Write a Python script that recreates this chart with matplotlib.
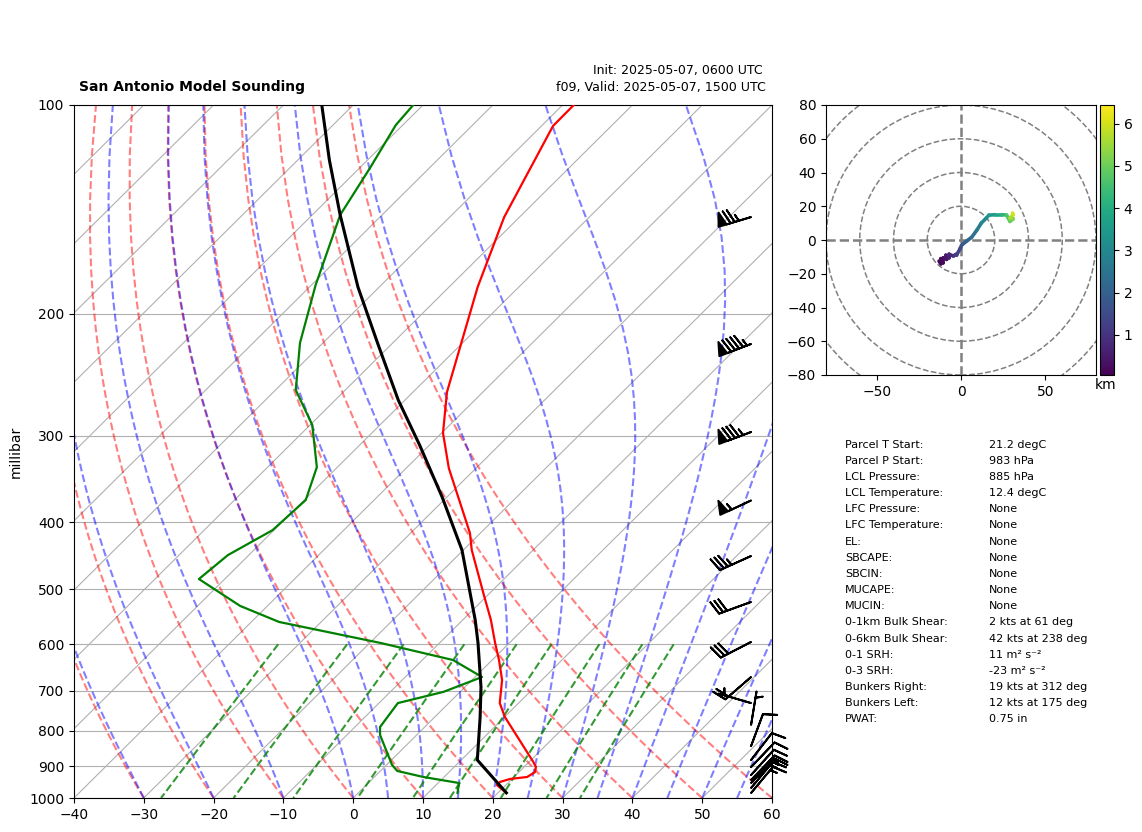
import numpy as np
import matplotlib
matplotlib.use('Agg')
import matplotlib.pyplot as plt
from matplotlib.collections import LineCollection
from matplotlib.patches import Circle
from matplotlib.transforms import Affine2D, blended_transform_factory

# ---------- sounding ----------
temp_p = [100, 107.2, 145.1, 183.1, 259.5, 297.4, 334.2, 414.7, 438.7, 511, 553.6, 597.3, 632.3,
          675.6, 729.5, 764.1, 887.1, 902, 917, 932.5, 938.8, 948.2, 957.7, 983]
temp_c = [-68.4, -68.35, -62.2, -55.9, -45.15, -39.8, -33.9, -21.5, -18.8, -10.4, -5.95, -2.05, 0.98,
          4.3, 7.3, 10.05, 20.6, 21.7, 22.3, 21.9, 19.7, 18.7, 18.7, 21.2]
dewp_p = [100, 106.9, 123.3, 144.1, 181.9, 220.4, 257.8, 289.5, 333.1, 371.5, 410.6, 446.1, 483.1,
          528.3, 557.2, 597.3, 632.3, 669, 703, 729.5, 789.8, 811, 896, 914, 932.5, 951.4, 983]
dewp_c = [-91.4, -91, -88.5, -86, -79.4, -73.3, -67.1, -59.7, -52.95, -49.8, -50.2, -53, -53.7,
          -43.9, -36, -18.5, -5.6, 1, -2.4, -7.3, -6.4, -5.25, 0.8, 2.4, 7, 13, 14.2]
parcel_p = [100, 120, 144.1, 183.1, 221.9, 266.4, 309.6, 367.8, 438.7, 553.6, 597.3, 691.7, 764.1, 881.4, 983]
parcel_c = [-104.5, -95.5, -86, -73.05, -61.8, -51, -41.4, -30.7, -20.2, -8.2, -4.5, 2.3, 6.5, 12.3, 21.2]

barb_p = [145.1, 221.2, 296.4, 372.1, 447.5, 521.3, 595.4, 669, 729.5, 784.6, 841.4, 881.4, 902.2,
          926.4, 942, 951.4, 967.3, 983.5]
barb_u = [71.7, 88.7, 79.5, 49.8, 31.9, 28.2, 26.7, 15.1, 4.8, -0.8, -3.5, -6.1, -6.9, -6.7, -10.4, -10.4, -9.6, -9.6]
barb_v = [21.7, 34.3, 29.8, 23.3, 14.4, 10.3, 13.8, 13.1, -1.4, -4.9, -9.4, -7.9, -7.2, -7.4, -10.8, -10.8, -11.5, -11.5]

hodo_h = [0.05, 0.1, 0.15, 0.2, 0.3, 0.4, 0.5, 0.6, 0.7, 0.9, 1.1, 1.3, 1.5, 1.8, 2.1, 2.4, 2.7, 3.0, 3.3, 3.5,
          3.8, 4.2, 4.7, 5.0, 5.3, 5.6, 6.0, 6.44]
hodo_u = [-13, -12, -12, -10.5, -10.5, -8.5, -9, -7, -7, -4.5, -3, -2.6, -0.5, 0.4, 3.5, 6.3, 9.5, 12, 15, 16.5,
          20, 24, 27, 29, 31, 29, 31, 30.5]
hodo_v = [-12.5, -14, -11, -13.5, -10.5, -11.5, -9, -10.5, -8.5, -9.5, -8.5, -9, -5, -3, -0.5, 1.6, 6, 10, 13, 14.7,
          15, 15, 14.8, 11, 12.5, 13, 15, 16]

x_ticks = list(range(-40, 61, 10))
p_ticks = [100, 200, 300, 400, 500, 600, 700, 800, 900, 1000]
hodo_rings = [20, 40, 60, 80, 100]
mix_ratios = [0.0004, 0.001, 0.002, 0.004, 0.007, 0.01, 0.016, 0.024, 0.032]

stat_names = ['Parcel T Start:', 'Parcel P Start:', 'LCL Pressure:', 'LCL Temperature:', 'LFC Pressure:',
              'LFC Temperature:', 'EL:', 'SBCAPE:', 'SBCIN:', 'MUCAPE:', 'MUCIN:', '0-1km Bulk Shear:',
              '0-6km Bulk Shear:', '0-1 SRH:', '0-3 SRH:', 'Bunkers Right:', 'Bunkers Left:', 'PWAT:']
stat_values = ['21.2 degC', '983 hPa', '885 hPa', '12.4 degC', 'None', 'None', 'None', 'None', 'None',
               'None', 'None', '2 kts at 61 deg', '42 kts at 238 deg', '11 m² s⁻²', '-23 m² s⁻²',
               '19 kts at 312 deg', '12 kts at 175 deg', '0.75 in']

W, H = 1142, 832
fig = plt.figure(figsize=(W / 100, H / 100), dpi=100)


def box(x0, y0, x1, y1):
    return [x0 / W, 1 - y1 / H, (x1 - x0) / W, (y1 - y0) / H]


# ---------- skew-T ----------
ax = fig.add_axes(box(74, 105, 772, 798))
ax.set_yscale('log')
ax.set_xlim(-40, 60)
ax.set_ylim(1000, 100)
ax.set_xticks(x_ticks)
ax.yaxis.set_major_locator(matplotlib.ticker.FixedLocator(p_ticks))
ax.yaxis.set_major_formatter(matplotlib.ticker.FixedFormatter([str(p) for p in p_ticks]))
ax.yaxis.set_minor_locator(matplotlib.ticker.NullLocator())
ax.set_axisbelow(True)
ax.grid(axis='y', color='#b0b0b0', lw=0.8)
ax.set_ylabel('millibar', labelpad=4.7)

skew = ax.transScale + ax.transLimits + Affine2D().skew_deg(45, 0) + ax.transAxes

for t in range(-140, 61, 10):
    ax.plot([t, t], [1000, 100], color='#b0b0b0', lw=0.8, transform=skew, zorder=1)

levels = np.linspace(1000, 100, 50)
kappa = 0.2857
for t0 in range(-40, 61, 10):
    ax.plot((t0 + 273.15) * (levels / 1000) ** kappa - 273.15, levels, color='r', ls='--', lw=1.5,
            alpha=0.5, transform=skew, zorder=1.5)


def moist_rate(lnp, tk):
    p = np.exp(lnp)
    es = 6.112 * np.exp(17.67 * (tk - 273.15) / (tk - 29.65))
    rs = 0.622 * es / (p - es)
    lv, rd, cp = 2.501e6, 287.05, 1005.0
    return (rd * tk + lv * rs) / (cp + lv ** 2 * rs * 0.622 / (rd * tk ** 2))


def moist_adiabat(t0, press):
    out = [t0 + 273.15]
    for p0, p1 in zip(press[:-1], press[1:]):
        tk = out[-1]
        edges = np.linspace(np.log(p0), np.log(p1), 6)
        for a, b in zip(edges[:-1], edges[1:]):
            h = b - a
            k1 = moist_rate(a, tk)
            k2 = moist_rate(a + h / 2, tk + h * k1 / 2)
            k3 = moist_rate(a + h / 2, tk + h * k2 / 2)
            k4 = moist_rate(b, tk + h * k3)
            tk = tk + h * (k1 + 2 * k2 + 2 * k3 + k4) / 6
        out.append(tk)
    return np.array(out) - 273.15


for t0 in [-40, -30, -20, -10] + list(range(0, 61, 5)):
    ax.plot(moist_adiabat(t0, levels), levels, color='b', ls='--', lw=1.5, alpha=0.5, transform=skew, zorder=1.5)

mix_levels = np.linspace(600, 1000, 30)
for w in mix_ratios:
    ln_e = np.log(mix_levels * w / (0.622 + w) / 6.112)
    ax.plot(243.5 * ln_e / (17.67 - ln_e), mix_levels, color='g', ls='--', lw=1.5, alpha=0.8, transform=skew, zorder=1.5)

ax.plot(temp_c, temp_p, color='r', lw=1.6, transform=skew, zorder=3)
ax.plot(dewp_c, dewp_p, color='g', lw=1.6, transform=skew, zorder=3)
ax.plot(parcel_c, parcel_p, color='k', lw=2.2, transform=skew, zorder=3.5)

barb_tr = blended_transform_factory(ax.transAxes, ax.transData)
ax.barbs(np.full(len(barb_p), 0.97), barb_p, barb_u, barb_v, transform=barb_tr, clip_on=False, zorder=4,
         color='k', length=7, linewidth=1.4)

# ---------- header text ----------
fig.text(79 / W, 1 - 87.5 / H, 'San Antonio Model Sounding', fontsize=10, fontweight='bold', ha='left', va='center')
fig.text(762.5 / W, 1 - 70.5 / H, 'Init: 2025-05-07, 0600 UTC', fontsize=9, ha='right', va='center')
fig.text(766 / W, 1 - 88 / H, 'f09, Valid: 2025-05-07, 1500 UTC', fontsize=9.08, ha='right', va='center')

# ---------- hodograph ----------
hax = fig.add_axes(box(826, 105, 1096, 375))
hax.set_xlim(-80, 80)
hax.set_ylim(-80, 80)
hax.set_xticks([-50, 0, 50])
hax.set_yticks(list(range(-80, 81, 20)))
for r in hodo_rings:
    hax.add_patch(Circle((0, 0), r, fill=False, ec='grey', ls='--', lw=1.1, zorder=1))
hax.axhline(0, color='grey', ls='--', lw=1.8, zorder=1)
hax.axvline(-0.2, color='grey', ls='--', lw=1.8, zorder=1)
segs = np.column_stack([hodo_u, hodo_v])
segs = np.stack([segs[:-1], segs[1:]], axis=1)
lc = LineCollection(segs, cmap='viridis', linewidths=2.6, zorder=3, capstyle='round')
lc.set_array(np.array(hodo_h[:-1]))
lc.set_clim(min(hodo_h), max(hodo_h))
hax.add_collection(lc)

cax = fig.add_axes(box(1100, 105, 1114, 375))
cb = fig.colorbar(lc, cax=cax)
cb.set_ticks([1, 2, 3, 4, 5, 6])
fig.text(1106 / W, 1 - 384.5 / H, 'km', fontsize=10, ha='center', va='center')

# ---------- statistics ----------
for i, (name, value) in enumerate(zip(stat_names, stat_values)):
    y = 1 - (444.5 + i * 16.17) / H
    fig.text(845 / W, y, name, fontsize=8, ha='left', va='center')
    fig.text(989 / W, y, value, fontsize=8, ha='left', va='center')

fig.savefig('out.png', dpi=100)
